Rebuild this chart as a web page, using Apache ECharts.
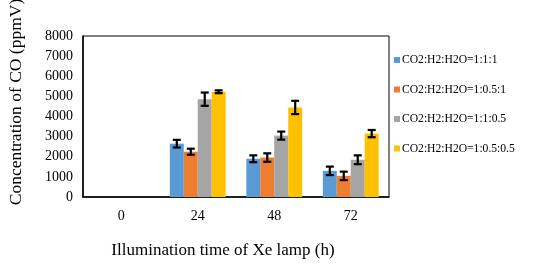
<!DOCTYPE html>
<html><head><meta charset="utf-8">
<script src="https://cdn.jsdelivr.net/npm/echarts@6/dist/echarts.min.js"></script>
<style>html,body{margin:0;padding:0;background:#fff}#c{width:535px;height:268px}</style>
</head><body><div id="c"></div>
<script>
var categories = ['0', '24', '48', '72'];
var seriesNames = ['CO2:H2:H2O=1:1:1', 'CO2:H2:H2O=1:0.5:1', 'CO2:H2:H2O=1:1:0.5', 'CO2:H2:H2O=1:0.5:0.5'];
var colors = ['#5B9BD5', '#ED7D31', '#A5A5A5', '#FFC000'];
var s1 = [0, 2650, 1900, 1300];
var s2 = [0, 2250, 1960, 1050];
var s3 = [0, 4860, 3050, 1850];
var s4 = [0, 5230, 4450, 3150];
var e1 = [0, 190, 170, 210];
var e2 = [0, 150, 210, 210];
var e3 = [0, 330, 200, 220];
var e4 = [0, 70, 330, 180];
var yTicks = [0, 1000, 2000, 3000, 4000, 5000, 6000, 7000, 8000];
var xTitle = 'Illumination time of Xe lamp (h)';
var yTitle = 'Concentration of CO (ppmV)';

var values = [s1, s2, s3, s4];
var errors = [e1, e2, e3, e4];
var gapRatio = 0.27;
var font = 'Liberation Serif';

var series = [];
values.forEach(function (v, i) {
  series.push({
    name: seriesNames[i], type: 'bar', data: v, barGap: '0%', barCategoryGap: (gapRatio * 100) + '%',
    itemStyle: { color: colors[i] }
  });
});
values.forEach(function (v, i) {
  var d = v.map(function (val, k) { return [k, val, errors[i][k]]; }).filter(function (x) { return x[2] > 0; });
  series.push({
    type: 'custom', name: seriesNames[i] + '_err', data: d, z: 10, silent: true,
    renderItem: function (params, api) {
      var k = api.value(0), val = api.value(1), err = api.value(2);
      var band = api.size([1, 0])[0];
      var groupW = band * (1 - gapRatio);
      var bw = groupW / 4;
      var c = api.coord([k, val]);
      var x = c[0] - groupW / 2 + (i + 0.5) * bw;
      var yHi = api.coord([k, val + err])[1];
      var yLo = api.coord([k, val - err])[1];
      var cap = 4;
      var st = { stroke: '#000', lineWidth: 2.2 };
      return { type: 'group', children: [
        { type: 'line', shape: { x1: x, y1: yHi, x2: x, y2: yLo }, style: st },
        { type: 'line', shape: { x1: x - cap, y1: yHi, x2: x + cap, y2: yHi }, style: st },
        { type: 'line', shape: { x1: x - cap, y1: yLo, x2: x + cap, y2: yLo }, style: st }
      ] };
    },
    encode: { x: 0, y: 1 }
  });
});

var chart = echarts.init(document.getElementById('c'), null, { renderer: 'canvas' });
chart.setOption({
  animation: false,
  textStyle: { fontFamily: font },
  grid: { left: 83, right: 146, top: 36, bottom: 71, show: true, borderColor: '#000', borderWidth: 1, backgroundColor: 'transparent' },
  legend: {
    data: seriesNames, orient: 'vertical', left: 389, top: 49, itemWidth: 6, itemHeight: 6, itemGap: 17.5,
    icon: 'rect', textStyle: { fontFamily: font, fontSize: 11.6, color: '#000', padding: [0, 0, 0, -3] }
  },
  graphic: [
    { type: 'text', x: 223, y: 251, silent: true,
      style: { text: xTitle, font: '17px "Liberation Serif"', fill: '#000', textAlign: 'center', textVerticalAlign: 'middle' } },
    { type: 'text', x: 16, y: 102, rotation: Math.PI / 2, silent: true,
      style: { text: yTitle, font: '17.5px "Liberation Serif"', fill: '#000', textAlign: 'center', textVerticalAlign: 'middle' } }
  ],
  xAxis: {
    type: 'category', data: categories,
    axisLine: { lineStyle: { color: '#000', width: 1.5 } },
    axisTick: { show: false },
    axisLabel: { fontFamily: font, fontSize: 14, color: '#000', margin: 12 }
  },
  yAxis: {
    type: 'value', min: 0, max: 8000, interval: 1000,
    axisLine: { show: true, lineStyle: { color: '#000', width: 1.5 } },
    axisTick: { show: false },
    splitLine: { show: false },
    axisLabel: { fontFamily: font, fontSize: 14, color: '#000', margin: 10,
      formatter: function (v) { return yTicks.indexOf(v) >= 0 ? String(v) : ''; } }
  },
  series: series
});
</script>
</body></html>
